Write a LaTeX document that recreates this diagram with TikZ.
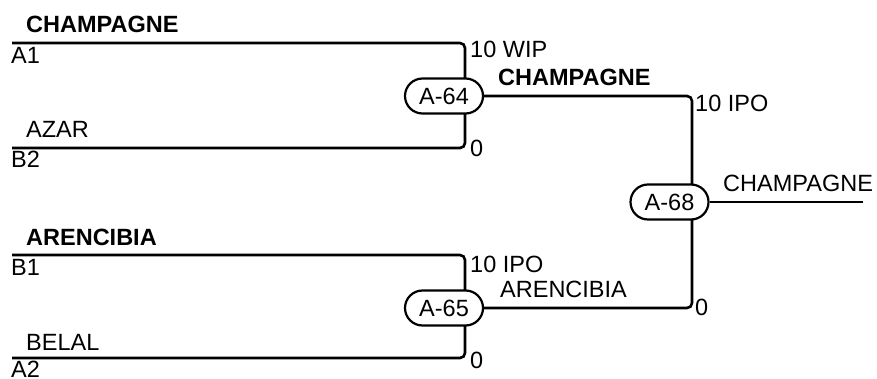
\documentclass[tikz,border=0pt]{standalone}
\usepackage{fontspec}
\setmainfont{Liberation Sans}
\usetikzlibrary{shapes.misc}
\begin{document}
\begin{tikzpicture}[x=1pt,y=-1pt,
  wire/.style={line width=2.6pt, rounded corners=5pt},
  game/.style={draw, line width=2.2pt, fill=white, rounded rectangle,
    minimum width=78pt, minimum height=35pt, inner sep=0pt,
    font=\fontsize{23.5}{26}\selectfont},
  lbl/.style={anchor=base west, inner sep=0pt, font=\fontsize{23.5}{26}\selectfont},
  blbl/.style={lbl, font=\fontsize{23.5}{26}\selectfont\bfseries}]
\useasboundingbox (0,0) rectangle (877,379);
% first-round brackets
\coordinate (a1) at (12,43);
\coordinate (b2) at (12,148);
\coordinate (b1) at (12,255);
\coordinate (a2) at (12,358);
\coordinate (c64t) at (465,43);
\coordinate (c64b) at (465,148);
\coordinate (c65t) at (465,255);
\coordinate (c65b) at (465,358);
\coordinate (c68t) at (692,96);
\coordinate (c68b) at (692,308);
\coordinate (out) at (863,202);
\draw[wire] (a1) -- (c64t) -- (c64b) -- (b2);
\draw[wire] (b1) -- (c65t) -- (c65b) -- (a2);
\node[game] (g64) at (444,96) {A-64};
\node[game] (g65) at (444,308) {A-65};
\draw[wire] (g64.east) -- (c68t) -- (c68b) -- (g65.east);
\node[game] (g68) at (669.5,202) {A-68};
\draw[wire] (g68.east) -- (out);
% labels
\node[blbl] (t1) at (26,33) {CHAMPAGNE};
\node[lbl] (l1) at (11,64) {A1};
\node[lbl] (t2) at (26,138) {AZAR};
\node[lbl] (l2) at (11,168) {B2};
\node[blbl] (t3) at (26,245) {ARENCIBIA};
\node[lbl] (l3) at (11,275) {B1};
\node[lbl] (t4) at (26,350) {BELAL};
\node[lbl] (l4) at (11,377) {A2};
\node[lbl] (s1) at (470,58) {10 WIP};
\node[lbl] (s2) at (470,157) {0};
\node[lbl] (s3) at (470,272) {10 IPO};
\node[lbl] (s4) at (470,368) {0};
\node[blbl] (w1) at (498,86) {CHAMPAGNE};
\node[lbl] (w2) at (500,297) {ARENCIBIA};
\node[lbl] (s5) at (695,112) {10 IPO};
\node[lbl] (s6) at (695,315) {0};
\node[lbl] (w3) at (723,192) {CHAMPAGNE};
\end{tikzpicture}
\end{document}
